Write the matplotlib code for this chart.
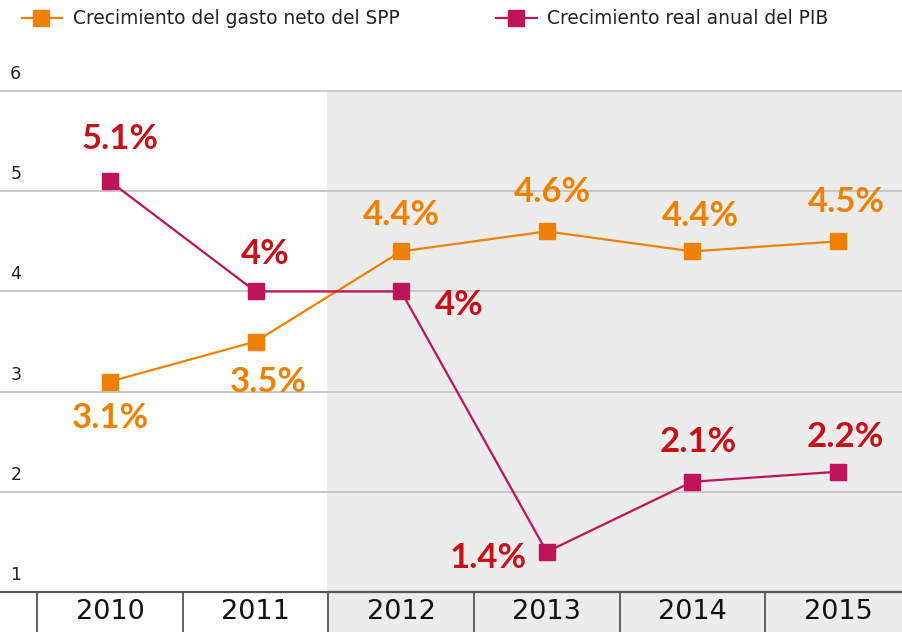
import matplotlib
matplotlib.use("Agg")
import matplotlib.pyplot as plt
from matplotlib.lines import Line2D

# ---- data ----
years = ["2010", "2011", "2012", "2013", "2014", "2015"]
gasto_spp = [3.1, 3.5, 4.4, 4.6, 4.4, 4.5]
pib_real = [5.1, 4.0, 4.0, 1.4, 2.1, 2.2]
gasto_labels = ["3.1%", "3.5%", "4.4%", "4.6%", "4.4%", "4.5%"]
pib_labels = ["5.1%", "4%", "4%", "1.4%", "2.1%", "2.2%"]
y_ticks = [1, 2, 3, 4, 5, 6]
legend_names = ["Crecimiento del gasto neto del SPP", "Crecimiento real anual del PIB"]

# ---- style ----
ORANGE = "#F08100"
MAGENTA = "#BE1458"
RED = "#C4111B"
SHADE = "#ECECEC"
GRID = "#C4C4C4"
DARK = "#555555"
FONT = "Lato"
FONT2 = "DejaVu Sans"

# label offsets in pixels (dx, dy)
gasto_off = [(0, -36), (13, -40), (0, 36), (6, 39), (8, 35), (8, 39)]
pib_off = [(10, 42), (10, 37), (58, -14), (-58, -6), (6, 40), (7, 35)]

fig = plt.figure(figsize=(9.02, 6.32), dpi=100)
ax = fig.add_axes([0, 0, 1, 1])
x = list(range(len(years)))
ax.set_xlim(-0.755, 5.44)
ax.set_ylim(0.6, 6.91)
ax.axis("off")

# shaded region (projected years)
ax.fill_between([1.49, 5.44], 0.6, 6, color=SHADE, zorder=0, linewidth=0)

# gridlines
for v in y_ticks[1:]:
    ax.axhline(v, color=GRID, lw=1.3, zorder=1)
ax.axhline(1, color=DARK, lw=1.6, zorder=2)
for i in x:
    ax.plot([i - 0.5, i - 0.5], [0.6, 1], color=DARK, lw=1.3, zorder=2)

# y tick labels above gridlines
for v in y_ticks:
    ax.annotate(str(v), xy=(0.0175, v), xycoords=("axes fraction", "data"),
                xytext=(0, 17), textcoords="offset pixels", ha="center", va="center",
                fontsize=12.5, family=FONT2, color="#222222")

# year labels
for i, yr in zip(x, years):
    ax.text(i, 0.795, yr, ha="center", va="center", fontsize=19.5, family=FONT2, color="#111111")

# lines
ax.plot(x, gasto_spp, color=ORANGE, lw=1.6, marker="s", ms=12, zorder=4)
ax.plot(x, pib_real, color=MAGENTA, lw=1.6, marker="s", ms=12, zorder=4)

for i, (v, lab, off) in enumerate(zip(gasto_spp, gasto_labels, gasto_off)):
    ax.annotate(lab, xy=(i, v), xytext=off, textcoords="offset pixels", ha="center", va="center",
                fontsize=25, fontweight="bold", family=FONT, color=ORANGE, zorder=5)
for i, (v, lab, off) in enumerate(zip(pib_real, pib_labels, pib_off)):
    ax.annotate(lab, xy=(i, v), xytext=off, textcoords="offset pixels", ha="center", va="center",
                fontsize=25, fontweight="bold", family=FONT, color=RED, zorder=5)

# custom legend at top
W, H = 902, 632
for (x0, x1, xm, xt), col, name in zip([(22, 62, 41, 73), (496, 537, 516, 547)],
                                       [ORANGE, MAGENTA], legend_names):
    yy = 1 - 18 / H
    ax.add_line(Line2D([x0 / W, x1 / W], [yy, yy], transform=ax.transAxes, color=col, lw=1.6, clip_on=False))
    ax.add_line(Line2D([xm / W], [yy], transform=ax.transAxes, color=col, marker="s", ms=11, clip_on=False))
    ax.text(xt / W, yy, name, transform=ax.transAxes, ha="left", va="center", fontsize=13.4,
            family=FONT2, color="#222222")

fig.savefig("out.png", dpi=100)
